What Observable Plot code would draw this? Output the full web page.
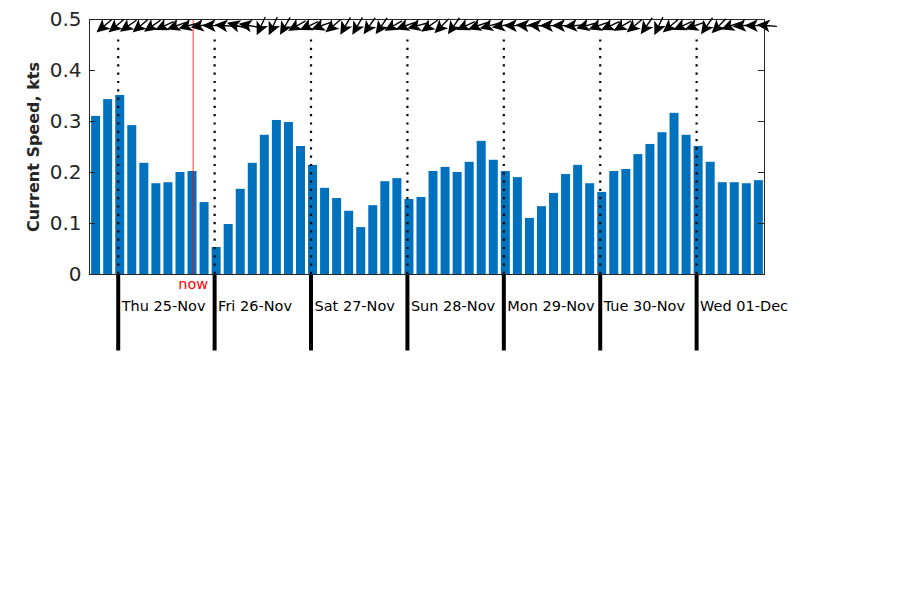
<!DOCTYPE html>
<html><head><meta charset="utf-8">
<script src="https://cdn.jsdelivr.net/npm/d3@7"></script>
<script src="https://cdn.jsdelivr.net/npm/@observablehq/plot@0.6"></script>
<style>
body{margin:0;background:#fff;}
#chart svg{display:block;font-family:"DejaVu Sans",sans-serif;background:#fff;}
</style>
</head><body><div id="chart"></div>
<script>
// ---- data ----
const firstBarTime = "2021-11-24T18:30:00Z"; // bars every 3 hours
const stepHours = 3;
const speeds = [0.310,0.343,0.351,0.292,0.218,0.178,0.180,0.200,0.202,0.141,
                0.053,0.098,0.167,0.218,0.273,0.302,0.298,0.251,0.214,0.169,
                0.149,0.124,0.092,0.135,0.182,0.188,0.147,0.151,0.202,0.210,
                0.200,0.220,0.261,0.224,0.202,0.190,0.110,0.133,0.159,0.196,
                0.214,0.178,0.161,0.202,0.206,0.235,0.255,0.278,0.316,0.273,
                0.251,0.220,0.180,0.180,0.178,0.184];
// direction the current flows toward, compass degrees
const directions = [230,230,235,230,235,245,250,255,260,270,
                    275,285,280,205,205,210,240,245,250,230,
                    210,210,215,215,240,250,255,235,225,215,
                    245,250,255,260,270,275,275,270,270,265,
                    255,250,245,240,230,215,205,230,245,250,
                    215,225,250,265,270,275];
const arrowOffsetHours = 2.1;
const dayStarts = ["2021-11-25","2021-11-26","2021-11-27","2021-11-28","2021-11-29","2021-11-30","2021-12-01"];
const dayLabels = ["Thu 25-Nov","Fri 26-Nov","Sat 27-Nov","Sun 28-Nov","Mon 29-Nov","Tue 30-Nov","Wed 01-Dec"];
const nowTime = "2021-11-25T18:40:00Z";
const nowLabel = "now";
const yTicks = [0,0.1,0.2,0.3,0.4,0.5];
const yTickLabels = ["0","0.1","0.2","0.3","0.4","0.5"];
const yLabel = "Current Speed, kts";
const xDomain = ["2021-11-24T16:51:00Z","2021-12-01T16:54:00Z"];

// ---- build tables ----
const H = 3600e3;
const t0 = new Date(firstBarTime);
const bars = speeds.map((v, i) => ({t: new Date(+t0 + i * stepHours * H), v, dir: directions[i]}));
const days = dayStarts.map((d, i) => ({t: new Date(d + "T00:00:00Z"), label: dayLabels[i]}));
const now = new Date(nowTime);
const dom = xDomain.map(d => new Date(d));
const halfW = 1.12 * H;

const arrowShape = {
  draw(ctx, l) {
    ctx.moveTo(0, 0); ctx.lineTo(0, -l + 5);
    ctx.moveTo(0, -l); ctx.lineTo(-4.8, -l + 10); ctx.lineTo(0, -l + 7.5); ctx.lineTo(4.8, -l + 10); ctx.closePath();
  }
};
const arrowOpts = {x: d => new Date(+d.t + arrowOffsetHours * H), y: () => 0.488, rotate: "dir", length: 18, anchor: "middle"};
let arrows;
try {
  arrows = Plot.vector(bars, {...arrowOpts, shape: arrowShape, stroke: "black", fill: "black", strokeWidth: 1.4, strokeLinejoin: "miter"});
} catch (e) {
  arrows = Plot.vector(bars, {...arrowOpts, stroke: "black", strokeWidth: 2});
}

const chart = Plot.plot({
  width: 900, height: 600,
  marginLeft: 89, marginRight: 136, marginTop: 19, marginBottom: 326,
  style: {fontFamily: "DejaVu Sans, sans-serif", background: "#fff"},
  x: {type: "utc", domain: dom, axis: null},
  y: {domain: [0, 0.5], axis: null},
  marks: [
    Plot.rectY(bars, {x1: d => new Date(+d.t - halfW), x2: d => new Date(+d.t + halfW), y: "v", fill: "#0072BD"}),
    Plot.ruleX(days, {x: "t", y1: 0, y2: 0.47, stroke: "black", strokeWidth: 2.2, strokeDasharray: "2.2,6.1"}),
    Plot.ruleX(days, {x: "t", y1: 0, y2: -0.15, stroke: "black", strokeWidth: 4}),
    Plot.ruleX([now], {x: d => d, y1: 0, y2: 0.5, stroke: "red", strokeOpacity: 0.6, strokeWidth: 1.3}),
    Plot.text([nowLabel], {x: () => now, y: () => -0.02, text: d => d, fill: "red", fontSize: 14.5, textAnchor: "middle"}),
    Plot.text(days, {x: "t", y: () => -0.063, text: "label", fontSize: 14.5, textAnchor: "start", dx: 3.5, fill: "black"}),
    Plot.ruleY(yTicks, {y: d => d, x1: () => dom[0], x2: () => new Date(+dom[0] + 1.5 * H), stroke: "#262626"}),
    Plot.ruleY(yTicks, {y: d => d, x1: () => new Date(+dom[1] - 1.5 * H), x2: () => dom[1], stroke: "#262626"}),
    Plot.frame({stroke: "#262626", strokeWidth: 1}),
    arrows,
    Plot.axisY(yTicks, {anchor: "left", tickSize: 0, tickPadding: 8, fontSize: 20, fill: "#262626",
      tickFormat: d => yTickLabels[yTicks.indexOf(d)], label: null}),
    Plot.text([yLabel], {frameAnchor: "left", textAnchor: "middle", rotate: -90, dx: -56, text: d => d, fontSize: 16, fontWeight: "bold", fill: "#262626"})
  ]
});
document.getElementById("chart").appendChild(chart);
</script></body></html>
